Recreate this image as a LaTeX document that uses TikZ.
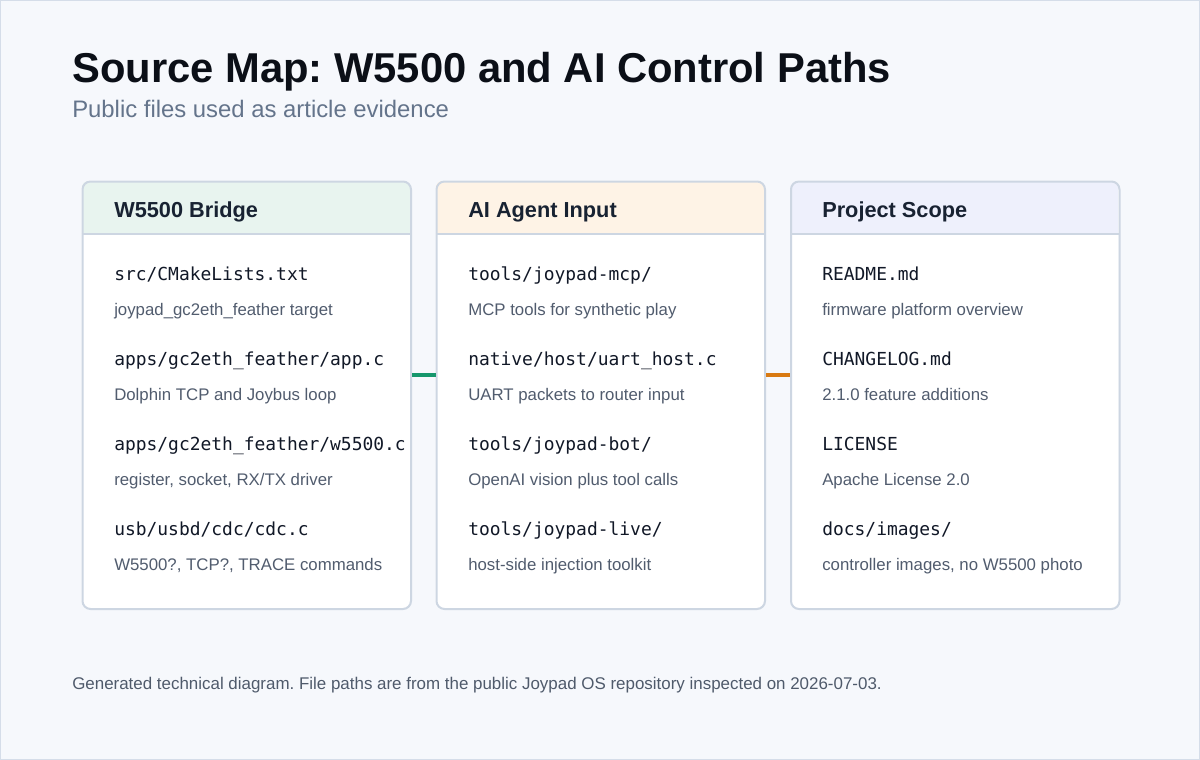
\documentclass[tikz,border=0pt]{standalone}
\usepackage{fontspec}
\setmainfont{Liberation Sans}
\setmonofont{DejaVu Sans Mono}
\definecolor{bg}{HTML}{F6F8FC}
\definecolor{outerc}{HTML}{D5DDE9}
\definecolor{titlec}{HTML}{0B0F17}
\definecolor{subc}{HTML}{64748B}
\definecolor{bordc}{HTML}{CDD6E2}
\definecolor{hdrtxt}{HTML}{182232}
\definecolor{monoc}{HTML}{111827}
\definecolor{descc}{HTML}{515C6E}
\definecolor{footc}{HTML}{4F5A6B}
\definecolor{hgreen}{HTML}{E8F4EF}
\definecolor{horange}{HTML}{FEF3E6}
\definecolor{hblue}{HTML}{EEF0FC}
\definecolor{lgreen}{HTML}{16976C}
\definecolor{lorange}{HTML}{D97A12}
\frenchspacing
\tikzset{
  cardbox/.style={draw=bordc, line width=1.5pt, rounded corners=6pt, inner sep=0pt, anchor=north west},
  hdrtitle/.style={anchor=base west, inner sep=0pt, text=hdrtxt, font=\fontsize{16.3}{19}\selectfont\bfseries},
  monotxt/.style={anchor=base west, inner sep=0pt, text=monoc, font=\fontsize{13.45}{16}\selectfont\ttfamily},
  desctxt/.style={anchor=base west, inner sep=0pt, text=descc, font=\fontsize{12.6}{15}\selectfont},
  linkline/.style={line width=2.4pt}
}
\newcommand\mkcard[4]{%
  \fill[white, rounded corners=6pt] (#2,180.5) rectangle (#3,608);
  \begin{scope}
    \clip[rounded corners=6pt] (#2,180.5) rectangle (#3,608);
    \fill[#4] (#2,180.5) rectangle (#3,234);
  \end{scope}
  \draw[bordc, line width=1.5pt] (#2,234) -- (#3,234);
  \node[cardbox, minimum width={(#3-#2)*0.75pt}, minimum height={427.5*0.75pt}] (#1) at (#2,180.5) {};
}
\begin{document}
\begin{tikzpicture}[x=0.75pt,y=-0.75pt]
\useasboundingbox (0,0) rectangle (1200,760);
\fill[bg] (0,0) rectangle (1200,760);
\draw[outerc, line width=0.75pt] (0.5,0.5) rectangle (1199.5,759.5);

\node[anchor=base west, inner sep=0pt, text=titlec, font=\fontsize{31.3}{36}\selectfont\bfseries] (title) at (72,82) {Source Map: W5500 and AI Control Paths};
\node[anchor=base west, inner sep=0pt, text=subc, font=\fontsize{17.9}{21}\selectfont] (subtitle) at (72,117) {Public files used as article evidence};

\mkcard{c1}{81.5}{410}{hgreen}
\mkcard{c2}{435.5}{764}{horange}
\mkcard{c3}{790}{1118.5}{hblue}

% connectors
\coordinate (la) at (410,375);
\draw[lgreen, linkline] (c1.east |- la) -- (c2.west |- la);
\draw[lorange, linkline] (c2.east |- la) -- (c3.west |- la);

% card 1
\node[hdrtitle] (h1) at (114,217) {W5500 Bridge};
\node[monotxt] (m11) at (114,280) {src/CMakeLists.txt};
\node[desctxt] (d11) at (114,315) {joypad\_gc2eth\_feather target};
\node[monotxt] (m12) at (114,365) {apps/gc2eth\_feather/app.c};
\node[desctxt] (d12) at (114,400) {Dolphin TCP and Joybus loop};
\node[monotxt] (m13) at (114,450) {apps/gc2eth\_feather/w5500.c};
\node[desctxt] (d13) at (114,485) {register, socket, RX/TX driver};
\node[monotxt] (m14) at (114,535) {usb/usbd/cdc/cdc.c};
\node[desctxt] (d14) at (114,570) {W5500?, TCP?, TRACE commands};

% card 2
\node[hdrtitle] (h2) at (468,217) {AI Agent Input};
\node[monotxt] (m21) at (468,280) {tools/joypad-mcp/};
\node[desctxt] (d21) at (468,315) {MCP tools for synthetic play};
\node[monotxt] (m22) at (468,365) {native/host/uart\_host.c};
\node[desctxt] (d22) at (468,400) {UART packets to router input};
\node[monotxt] (m23) at (468,450) {tools/joypad-bot/};
\node[desctxt] (d23) at (468,485) {OpenAI vision plus tool calls};
\node[monotxt] (m24) at (468,535) {tools/joypad-live/};
\node[desctxt] (d24) at (468,570) {host-side injection toolkit};

% card 3
\node[hdrtitle] (h3) at (822,217) {Project Scope};
\node[monotxt] (m31) at (822,280) {README.md};
\node[desctxt] (d31) at (822,315) {firmware platform overview};
\node[monotxt] (m32) at (822,365) {CHANGELOG.md};
\node[desctxt] (d32) at (822,400) {2.1.0 feature additions};
\node[monotxt] (m33) at (822,450) {LICENSE};
\node[desctxt] (d33) at (822,485) {Apache License 2.0};
\node[monotxt] (m34) at (822,535) {docs/images/};
\node[desctxt] (d34) at (822,570) {controller images, no W5500 photo};

\node[anchor=base west, inner sep=0pt, text=footc, font=\fontsize{12.7}{15}\selectfont] (foot) at (72,689) {Generated technical diagram. File paths are from the public Joypad OS repository inspected on 2026-07-03.};
\end{tikzpicture}
\end{document}
